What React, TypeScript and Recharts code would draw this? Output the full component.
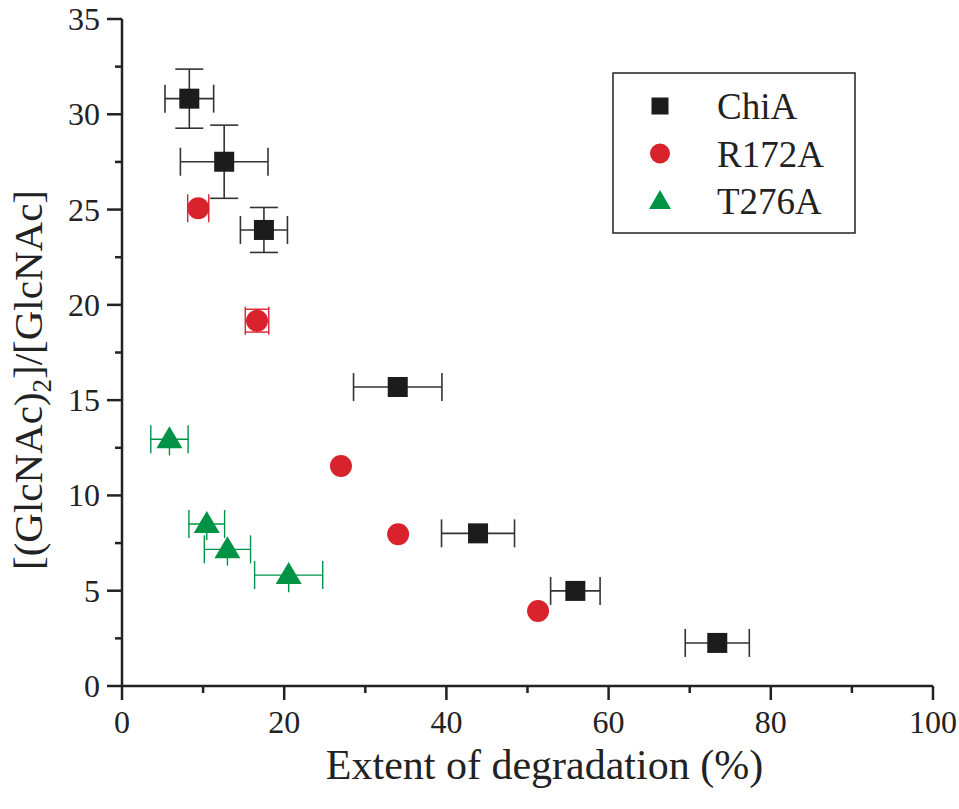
import React from "react";
import {ErrorBar, Legend, Scatter, ScatterChart, XAxis, YAxis} from "recharts";

// ChiA (wild type)
const chiaX = [8.3, 12.6, 17.5, 34.0, 43.9, 55.9, 73.4];
const chiaY = [30.82, 27.51, 23.93, 15.69, 8.01, 4.99, 2.26];
const chiaXErr = [3.0, 5.4, 2.9, 5.45, 4.5, 3.05, 3.95];
const chiaYErr = [1.55, 1.92, 1.18, 0, 0, 0, 0];

// R172A
const r172X = [9.4, 16.65, 27.0, 34.05, 51.3];
const r172Y = [25.07, 19.17, 11.54, 7.96, 3.94];
const r172XErr = [1.3, 1.45, 0, 0, 0];
const r172YErr = [0, 0.6, 0, 0, 0];

// T276A
const t276X = [5.85, 10.45, 13.0, 20.55];
const t276Y = [12.95, 8.5, 7.17, 5.82];
const t276XErr = [2.3, 2.2, 2.85, 4.2];
const t276YErr = [0.85, 0.85, 0.85, 0.9];

const xTicks = [0, 10, 20, 30, 40, 50, 60, 70, 80, 90, 100];
const yTicks = [0, 2.5, 5, 7.5, 10, 12.5, 15, 17.5, 20, 22.5, 25, 27.5, 30, 32.5, 35];

const BLACK = "#1c1c1c";
const RED = "#d8232d";
const GREEN = "#009245";
const AXIS = "#222";
const FONT = "'Liberation Serif', 'Times New Roman', serif";

const build = (xs: number[], ys: number[], ex: number[], ey: number[]) =>
    xs.map((x, i) => ({x, y: ys[i], ex: ex[i], ey: ey[i]}));

const chiaData = build(chiaX, chiaY, chiaXErr, chiaYErr);
const r172Data = build(r172X, r172Y, r172XErr, r172YErr);
// lower error only shows below the triangle; the upper one is hidden by the marker
const t276Data = t276X.map((x, i) => ({x, y: t276Y[i], ex: t276XErr[i], ey: [t276YErr[i], 0.4]}));

const SquareDot = (props: any) => {
    const {cx, cy} = props;
    return <rect x={cx - 10} y={cy - 10} width={20} height={20} fill={BLACK}/>;
};
const CircleDot = (props: any) => {
    const {cx, cy} = props;
    return <circle cx={cx} cy={cy} r={11} fill={RED}/>;
};
const TriangleDot = (props: any) => {
    const {cx, cy} = props;
    return <polygon points={`${cx},${cy - 13} ${cx - 13},${cy + 9} ${cx + 13},${cy + 9}`} fill={GREEN}/>;
};

const XTick = (props: any) => {
    const {x, y, payload} = props;
    const major = payload.value % 20 === 0;
    return (
        <g>
            <line x1={x} x2={x} y1={y} y2={y + (major ? 14 : 7)} stroke={AXIS} strokeWidth={2.5}/>
            {major && (
                <text x={x} y={y + 47} textAnchor="middle" fontSize={32} fontFamily={FONT} fill="#222">
                    {payload.value}
                </text>
            )}
        </g>
    );
};

const YTick = (props: any) => {
    const {x, y, payload} = props;
    const major = payload.value % 5 === 0;
    return (
        <g>
            <line x1={x} x2={x - (major ? 15 : 7)} y1={y} y2={y} stroke={AXIS} strokeWidth={2.5}/>
            {major && (
                <text x={x - 22} y={y + 11} textAnchor="end" fontSize={32} fontFamily={FONT} fill="#222">
                    {payload.value}
                </text>
            )}
        </g>
    );
};

const legendItems = [
    {name: "ChiA", kind: "square"},
    {name: "R172A", kind: "circle"},
    {name: "T276A", kind: "triangle"},
];

const LegendBox = () => (
    <svg width={244} height={162}>
        <rect x={1} y={1} width={242} height={160} fill="#fff" stroke={AXIS} strokeWidth={1.5}/>
        {legendItems.map((it, i) => {
            const cy = 34 + i * 47.5;
            const cx = 48;
            return (
                <g key={it.name}>
                    {it.kind === "square" && <rect x={cx - 8.5} y={cy - 8.5} width={17} height={17} fill={BLACK}/>}
                    {it.kind === "circle" && <circle cx={cx} cy={cy} r={10} fill={RED}/>}
                    {it.kind === "triangle" &&
                        <polygon points={`${cx},${cy - 11} ${cx - 11},${cy + 8} ${cx + 11},${cy + 8}`} fill={GREEN}/>}
                    <text x={105} y={cy + 13} fontSize={37} fontFamily={FONT} fill="#222">{it.name}</text>
                </g>
            );
        })}
    </svg>
);

const YLabel = () => (
    <text transform="translate(42, 380) rotate(-90)" textAnchor="middle" fontSize={41} fontFamily={FONT} fill="#222">
        <tspan>[(GlcNAc)</tspan>
        <tspan fontSize={27} dy={9}>2</tspan>
        <tspan dy={-9}>]/[GlcNAc]</tspan>
    </text>
);

export default function App() {
    return (
        <div style={{position: "absolute", left: 0, top: 0, width: 959, height: 809, background: "#fff"}}>
            <ScatterChart width={959} height={809} margin={{top: 19, right: 26, bottom: 0, left: 0}}>
                <XAxis
                    type="number"
                    dataKey="x"
                    domain={[0, 100]}
                    ticks={xTicks}
                    interval={0}
                    height={123}
                    tickSize={0}
                    tickMargin={0}
                    tickLine={false}
                    tick={<XTick/>}
                    axisLine={{stroke: AXIS, strokeWidth: 2.5}}
                    label={{
                        value: "Extent of degradation (%)",
                        position: "insideBottom",
                        offset: 30,
                        fontSize: 42,
                        fontFamily: FONT,
                        fill: "#222",
                        dx: 17,
                    }}
                />
                <YAxis
                    type="number"
                    dataKey="y"
                    domain={[0, 35]}
                    ticks={yTicks}
                    interval={0}
                    width={122}
                    tickSize={0}
                    tickMargin={0}
                    tickLine={false}
                    tick={<YTick/>}
                    axisLine={{stroke: AXIS, strokeWidth: 2.5}}
                    label={<YLabel/>}
                />
                <Legend
                    layout="vertical"
                    align="center"
                    verticalAlign="middle"
                    content={<LegendBox/>}
                    wrapperStyle={{left: 612, top: 72, width: 244, height: 162}}
                />
                <Scatter name="ChiA" data={chiaData} shape={<SquareDot/>} isAnimationActive={false}>
                    <ErrorBar dataKey="ex" direction="x" width={14} stroke="#333" strokeWidth={1.6} isAnimationActive={false}/>
                    <ErrorBar dataKey="ey" direction="y" width={14} stroke="#333" strokeWidth={1.6} isAnimationActive={false}/>
                </Scatter>
                <Scatter name="R172A" data={r172Data} shape={<CircleDot/>} isAnimationActive={false}>
                    <ErrorBar dataKey="ex" direction="x" width={14} stroke={RED} strokeWidth={1.4} isAnimationActive={false}/>
                    <ErrorBar dataKey="ey" direction="y" width={12} stroke={RED} strokeWidth={1.4} isAnimationActive={false}/>
                </Scatter>
                <Scatter name="T276A" data={t276Data} shape={<TriangleDot/>} isAnimationActive={false}>
                    <ErrorBar dataKey="ex" direction="x" width={14} stroke={GREEN} strokeWidth={1.4} isAnimationActive={false}/>
                    <ErrorBar dataKey="ey" direction="y" width={0} stroke={GREEN} strokeWidth={1.4} isAnimationActive={false}/>
                </Scatter>
            </ScatterChart>
        </div>
    );
}
